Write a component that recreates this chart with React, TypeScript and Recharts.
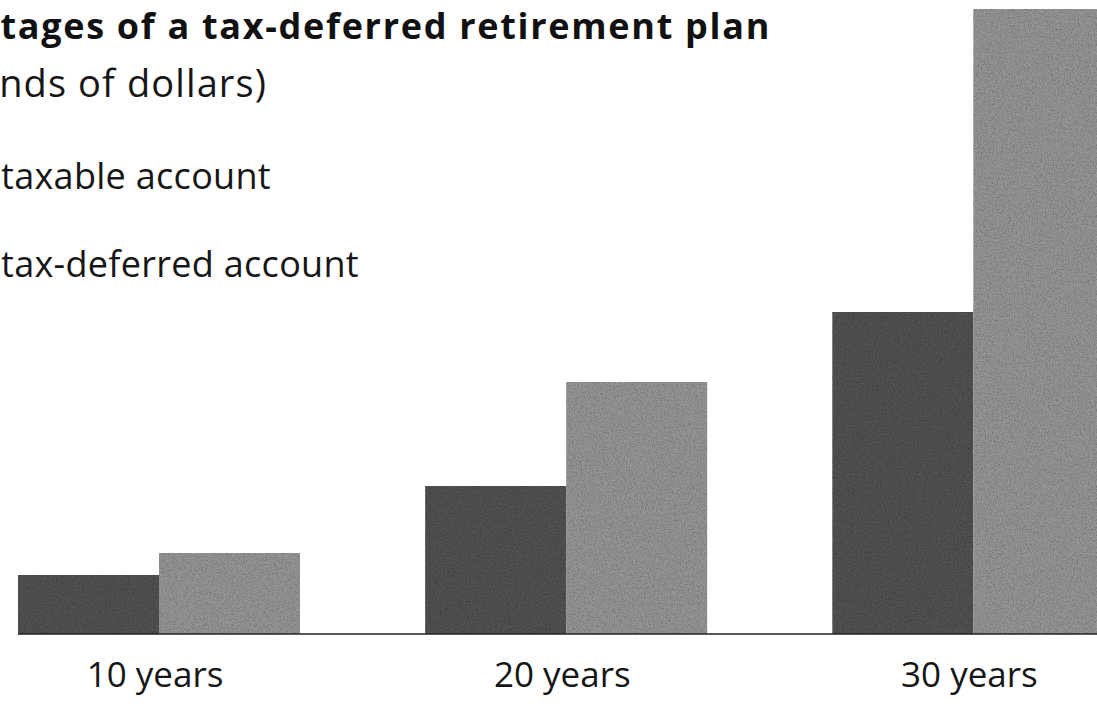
import { BarChart, Bar, XAxis, YAxis, Legend } from "recharts";

// values in thousands of dollars
const categories = ["10 years", "20 years", "30 years"];
const taxable = [11.8, 29.6, 64.4];
const taxDeferred = [16.2, 50.4, 125];

const seriesNames = ["taxable account", "tax-deferred account"];
const seriesColors = ["#525252", "#979797"];

const FONT = '"Open Sans", "Noto Sans", sans-serif';

const data = categories.map((c, i) => ({
  year: c,
  taxable: taxable[i],
  deferred: taxDeferred[i],
}));

function YearTick({ x, y, payload }: any) {
  return (
    <text
      x={x - 4}
      y={y + 45}
      textAnchor="middle"
      fontSize={35}
      fontFamily={FONT}
      fill="#161616"
    >
      {payload.value}
    </text>
  );
}

// scanned-print look: grainy fill
function GrainBar(props: any) {
  const { x, y, width, height, fill } = props;
  if (!height || height <= 0) return null;
  return (
    <rect
      x={x}
      y={y}
      width={width}
      height={height}
      fill={fill}
      filter="url(#grain)"
    />
  );
}

function LegendBlock({ payload }: any) {
  // keep series order (recharts sorts legend items by name)
  const items = [...(payload || [])].sort(
    (a: any, b: any) => seriesNames.indexOf(a.value) - seriesNames.indexOf(b.value)
  );
  return (
    <svg width={520} height={220} style={{ display: "block" }}>
      {items.map((p: any, i: number) => (
        <g key={p.value}>
          <rect x={4} y={30 + i * 88} width={46} height={34} fill={p.color} />
          <text
            x={81}
            y={57 + i * 88}
            fontSize={36}
            letterSpacing={0.3}
            fontFamily={FONT}
            fill="#161616"
          >
            {p.value}
          </text>
        </g>
      ))}
    </svg>
  );
}

export default function App() {
  return (
    <div
      style={{
        position: "absolute",
        left: 0,
        top: 0,
        width: 1097,
        height: 704,
        overflow: "hidden",
        background: "#fff",
      }}
    >
      <svg width={0} height={0} style={{ position: "absolute" }}>
        <defs>
          <filter id="grain" x="0" y="0" width="100%" height="100%">
            <feTurbulence
              type="fractalNoise"
              baseFrequency="0.75"
              numOctaves={2}
              seed={4}
              result="noise"
            />
            <feColorMatrix
              in="noise"
              type="matrix"
              values="0 0 0 0 0  0 0 0 0 0  0 0 0 0 0  1.1 0 0 0 -0.42"
              result="speck"
            />
            <feComposite in="speck" in2="SourceGraphic" operator="in" result="clipped" />
            <feMerge>
              <feMergeNode in="SourceGraphic" />
              <feMergeNode in="clipped" />
            </feMerge>
          </filter>
        </defs>
      </svg>
      <BarChart
        width={1177}
        height={704}
        data={data}
        margin={{ top: 9, right: 0, bottom: 20, left: 18 }}
        barCategoryGap={62.5}
        barGap={0}
      >
        <YAxis hide domain={[0, 125]} />
        <XAxis
          dataKey="year"
          height={50}
          interval={0}
          tickLine={false}
          axisLine={{ stroke: "#222", strokeWidth: 1.5 }}
          tick={<YearTick />}
          padding={{ left: -62.5, right: 0 }}
        />
        <Legend
          layout="vertical"
          align="center"
          verticalAlign="middle"
          wrapperStyle={{ left: -80, top: 132, width: 520 }}
          content={<LegendBlock />}
        />
        <Bar
          dataKey="taxable"
          name={seriesNames[0]}
          fill={seriesColors[0]}
          shape={<GrainBar />}
          isAnimationActive={false}
        />
        <Bar
          dataKey="deferred"
          name={seriesNames[1]}
          fill={seriesColors[1]}
          shape={<GrainBar />}
          isAnimationActive={false}
        />
      </BarChart>
      <svg
        width={1097}
        height={120}
        style={{ position: "absolute", left: 0, top: 0, pointerEvents: "none" }}
      >
        <text
          x={771}
          y={39}
          textAnchor="end"
          fontSize={36}
          fontWeight={700}
          letterSpacing={1.7}
          fontFamily={FONT}
          fill="#111"
        >
          Advantages of a tax-deferred retirement plan
        </text>
        <text
          x={267}
          y={97}
          textAnchor="end"
          fontSize={38}
          letterSpacing={1.1}
          fontFamily={FONT}
          fill="#161616"
        >
          (in thousands of dollars)
        </text>
      </svg>
    </div>
  );
}
